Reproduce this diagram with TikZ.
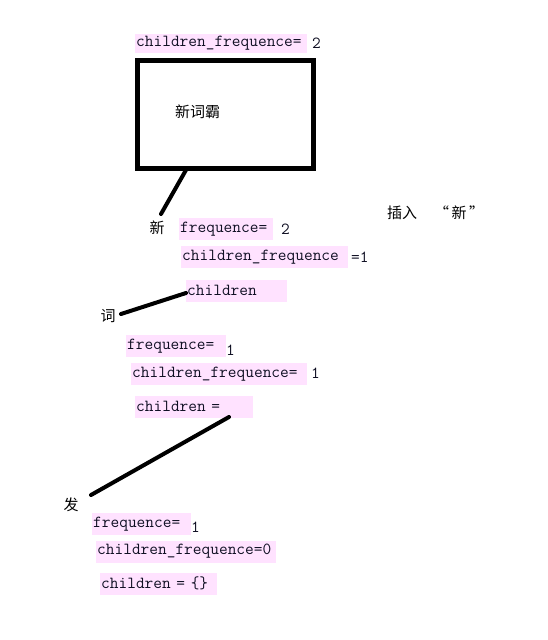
\documentclass[tikz,border=0pt]{standalone}
\usepackage{fontspec}
\newfontfamily\cjk{Noto Sans CJK SC}
\definecolor{hl}{RGB}{255,226,255}
\definecolor{ink}{RGB}{15,15,35}
\begin{document}
\begin{tikzpicture}[x=1pt,y=-1pt,
  hlbox/.style={fill=hl, anchor=west, inner xsep=1pt, inner ysep=0pt, minimum height=22pt, font=\fontsize{16.9}{18}\ttfamily, text=ink, align=left},
  plain/.style={anchor=west, inner sep=0pt, font=\fontsize{16.9}{18}\ttfamily, text=ink},
  cjklabel/.style={inner sep=0pt, font=\fontsize{15}{16}\cjk},
  link/.style={line width=4pt, line cap=round}]
\useasboundingbox (0,0) rectangle (548,640);

% top node
\node[hlbox, minimum height=19pt, text width=170pt] (topcf) at (135,43.5) {children\_frequence=};
\node[plain] (topv) at (312,43) {2};
\node[draw, line width=4.5pt, minimum width=176pt, minimum height=108pt, anchor=north west, inner sep=0pt, outer sep=0pt] (root) at (137.5,60.5) {};
\node[cjklabel, anchor=west] (word) at (175,112) {新词霸};

% level 1
\coordinate (r1) at (186,170);
\coordinate (x1) at (161,214);
\draw[link] (r1) -- (x1);
\node[cjklabel] (c1) at (157,228) {新};
\node[hlbox, text width=92pt] (f1) at (179,229) {frequence=};
\node[plain] (f1v) at (281,229) {2};
\node[hlbox, text width=165pt] (cf1) at (181,257) {children\_frequence};
\node[plain] (cf1v) at (351,257) {=1};
\node[hlbox, text width=99pt] (ch1) at (186,290.5) {children};
\node[cjklabel, anchor=west] (ins) at (387,213) {插入\hspace{17pt}“\,新\,”};

% level 2
\coordinate (a2) at (186,293);
\coordinate (x2) at (121,314);
\draw[link] (a2) -- (x2);
\node[cjklabel] (c2) at (108,316) {词};
\node[hlbox, text width=98pt] (f2) at (126,346) {frequence=};
\node[plain] (f2v) at (226,350) {1};
\node[hlbox, text width=174pt] (cf2) at (131,374) {children\_frequence=};
\node[plain] (cf2v) at (311,373) {1};
\node[hlbox, text width=116pt] (ch2) at (135,406.5) {children =};

% level 3
\coordinate (a3) at (229,417);
\coordinate (x3) at (91,495);
\draw[link] (a3) -- (x3);
\node[cjklabel] (c3) at (71,505) {发};
\node[hlbox, text width=97pt] (f3) at (92,524) {frequence=};
\node[plain] (f3v) at (191,527) {1};
\node[hlbox, text width=178pt] (cf3) at (96,551.5) {children\_frequence=0};
\node[hlbox, text width=115pt] (ch3) at (100,583.5) {children = \{\}};
\end{tikzpicture}
\end{document}
